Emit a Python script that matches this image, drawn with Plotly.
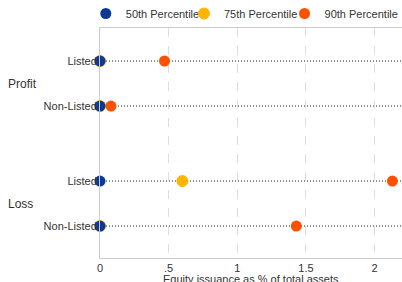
import plotly.graph_objects as go

groups = ["Profit", "Loss"]
subcats = ["Listed", "Non-Listed"]
series_names = ["50th Percentile", "75th Percentile", "90th Percentile"]
colors = ["#0a3a96", "#ffb400", "#ff5000"]
# values per row: Profit Listed, Profit Non-Listed, Loss Listed, Loss Non-Listed
p50 = [0.0, 0.0, 0.0, 0.0]
p75 = [0.0, 0.0, 0.60, 0.0]
p90 = [0.47, 0.08, 2.13, 1.43]
xticks = [0, 0.5, 1, 1.5, 2]
xticklabels = ["0", ".5", "1", "1.5", "2"]
x_title = "Equity issuance as % of total assets"

# row positions (top to bottom)
rows = []
ypos = []
for gi, g in enumerate(groups):
    for si, s in enumerate(subcats):
        rows.append((g, s))
        ypos.append(11 - gi * 8 - si * 3)

fig = go.Figure()
XMAX = 2.2
for y in ypos:
    fig.add_trace(go.Scatter(x=[0, XMAX], y=[y, y], mode="lines",
                             line=dict(color="#222", width=1, dash="1px,2px"),
                             showlegend=False, hoverinfo="skip"))

legend_ids = ["legend", "legend2", "legend3"]
legend_x = [-0.047, 0.278, 0.611]
vals = [p50, p75, p90]
for idx in [2, 1, 0]:
    fig.add_trace(go.Scatter(
        x=vals[idx], y=ypos, mode="markers", name=series_names[idx],
        legend=legend_ids[idx],
        marker=dict(color=colors[idx], size=11,
                    line=dict(color=colors[idx], width=1 if idx == 1 else 0)),
        cliponaxis=False))

annotations = []
for gi, g in enumerate(groups):
    gy = (ypos[gi * 2] + ypos[gi * 2 + 1]) / 2
    annotations.append(dict(text=g, xref="paper", x=-94 / 302, y=gy, yref="y",
                            showarrow=False, xanchor="left",
                            font=dict(size=12, color="#333")))
annotations.append(dict(text=x_title, xref="paper", x=0.5, yref="paper", y=0,
                        yshift=-21, yanchor="middle", showarrow=False,
                        font=dict(size=11, color="#333")))

legend_common = dict(orientation="h", y=1.0, yanchor="bottom", xanchor="left",
                     font=dict(size=11, color="#333"), itemwidth=30,
                     bgcolor="rgba(0,0,0,0)")
fig.update_layout(
    width=402, height=282,
    margin=dict(l=100, r=0, t=28, b=24, autoexpand=False),
    paper_bgcolor="white", plot_bgcolor="white",
    font=dict(family="Liberation Sans, Arial, sans-serif", size=11, color="#333"),
    legend=dict(x=legend_x[0], **legend_common),
    legend2=dict(x=legend_x[1], **legend_common),
    legend3=dict(x=legend_x[2], **legend_common),
    annotations=annotations,
    showlegend=True,
)
fig.update_xaxes(range=[0, XMAX], tickvals=xticks, ticktext=xticklabels,
                 showgrid=True, gridcolor="#dddddd", griddash="dash", gridwidth=1,
                 zeroline=False, showline=True, linecolor="#cccccc", mirror=True,
                 ticks="", automargin=False, tickfont=dict(size=11, color="#333"))
fig.update_yaxes(range=[-2.13, 13.2], tickvals=ypos, ticktext=[s for g, s in rows],
                 showgrid=False, zeroline=False, showline=True, linecolor="#cccccc",
                 ticks="", ticklen=0, automargin=False, tickfont=dict(size=11, color="#333"))

fig.write_html("out.html", config={"displayModeBar": False},
               post_script="document.body.style.margin='0';")
